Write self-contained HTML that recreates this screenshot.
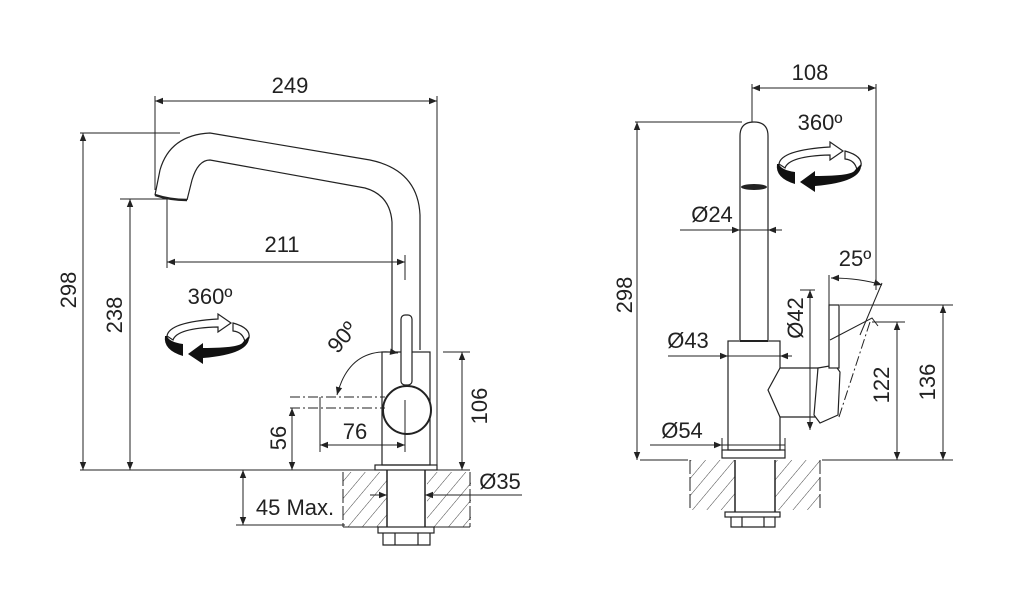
<!DOCTYPE html>
<html><head><meta charset="utf-8"><style>
html,body{margin:0;padding:0;background:#fff;}
svg{display:block;}
text{font-family:"Liberation Sans",Arial,sans-serif;font-size:22px;fill:#222;}
</style></head><body>
<svg width="1033" height="601" viewBox="0 0 1033 601" xmlns="http://www.w3.org/2000/svg">
<defs>
<pattern id="h" patternUnits="userSpaceOnUse" width="11" height="11" patternTransform="rotate(40)">
<line x1="0" y1="0" x2="0" y2="11" stroke="#444" stroke-width="1"/>
</pattern>
<marker id="a" viewBox="0 0 10 10" refX="10" refY="5" markerWidth="14" markerHeight="8" markerUnits="userSpaceOnUse" orient="auto-start-reverse">
<path d="M0,1 L10,5 L0,9 Z" fill="#222"/>
</marker>
<g id="rot">
<path d="M4,22 Q6,8 55,5 L55,0 L68,9 L55,18 L55,13 Q14,14 10,26 Z" fill="#fff" stroke="#222" stroke-width="1.2"/>
<path d="M70,9 Q88,14 86,24 L82,28 Q80,18 70,17 Z" fill="#fff" stroke="#222" stroke-width="1.2"/>
<path d="M2,22 Q0,36 20,42 L20,30 Q6,28 4,22 Z" fill="#111"/>
<path d="M86,22 Q88,40 40,44 L40,50 L25,40 L40,29 L40,34 Q78,34 80,28 Z" fill="#111"/>
</g>
</defs>
<g fill="none" stroke="#222" stroke-width="1">
<!-- LEFT DRAWING -->
<line x1="155" y1="101" x2="437" y2="101" marker-start="url(#a)" marker-end="url(#a)"/>
<line x1="155" y1="96" x2="155" y2="190"/>
<line x1="437" y1="96" x2="437" y2="470"/>
<line x1="80" y1="133" x2="180" y2="133"/>
<line x1="83" y1="133" x2="83" y2="470" marker-start="url(#a)" marker-end="url(#a)"/>
<line x1="120" y1="199" x2="168" y2="199"/>
<line x1="130" y1="199" x2="130" y2="470" marker-start="url(#a)" marker-end="url(#a)"/>
<line x1="167" y1="199" x2="167" y2="268"/>
<line x1="167" y1="262" x2="405" y2="262" marker-start="url(#a)" marker-end="url(#a)"/>
<line x1="405" y1="255" x2="405" y2="280"/>
<path d="M155,195 L160,170 Q170,135 210,133 L370,160 Q418,170 420,215 L420,350" stroke-width="1.2"/>
<path d="M187,200 L192,180 Q198,160 210,160 L365,188 Q390,195 392,222 L392,350" stroke-width="1.2"/>
<path d="M155,195 Q170,200 187,200" stroke-width="2.5"/>
<rect x="382" y="352" width="48" height="113" stroke-width="1.2"/>
<rect x="375" y="465" width="62" height="5" stroke-width="1.2"/>
<rect x="401" y="315" width="11" height="70" rx="4" fill="#fff" stroke-width="1.2"/>
<circle cx="407" cy="410" r="24" fill="#fff" stroke-width="2"/>
<line x1="80" y1="470" x2="470" y2="470"/>
<rect x="343" y="472" width="44" height="55" fill="url(#h)" stroke="none"/>
<rect x="427" y="472" width="44" height="55" fill="url(#h)" stroke="none"/>
<line x1="343" y1="472" x2="343" y2="527" stroke-dasharray="14,3"/>
<line x1="470" y1="472" x2="470" y2="527" stroke-dasharray="14,3"/>
<line x1="387" y1="470" x2="387" y2="527" stroke-width="1.5"/>
<line x1="425" y1="470" x2="425" y2="527" stroke-width="1.5"/>
<line x1="343" y1="527" x2="470" y2="527"/>
<rect x="378" y="527" width="56" height="6" stroke-width="1.2"/>
<path d="M383,533 L383,545 L430,545 L430,533 M395,533 L395,545 M418,533 L418,545" stroke-width="1.2"/>
<path d="M398,353 Q350,345 337,395" marker-start="url(#a)" marker-end="url(#a)"/>
<path d="M290,397 L385,397 M290,408 L385,408" stroke-dasharray="10,3,2,3"/>
<line x1="320" y1="397" x2="320" y2="452"/>
<line x1="405" y1="400" x2="405" y2="452"/>
<line x1="320" y1="445" x2="405" y2="445" marker-start="url(#a)" marker-end="url(#a)"/>
<line x1="292" y1="408" x2="292" y2="470" marker-start="url(#a)" marker-end="url(#a)"/>
<line x1="443" y1="352" x2="470" y2="352"/>
<line x1="462" y1="352" x2="462" y2="470" marker-start="url(#a)" marker-end="url(#a)"/>
<line x1="370" y1="495" x2="387" y2="495" marker-end="url(#a)"/>
<line x1="440" y1="495" x2="425" y2="495" marker-end="url(#a)"/>
<line x1="425" y1="495" x2="522" y2="495"/>
<line x1="243" y1="470" x2="243" y2="525" marker-start="url(#a)" marker-end="url(#a)"/>
<line x1="236" y1="525" x2="345" y2="525"/>

<!-- RIGHT DRAWING -->
<line x1="752" y1="88" x2="876" y2="88" marker-start="url(#a)" marker-end="url(#a)"/>
<line x1="752" y1="84" x2="752" y2="122"/>
<line x1="876" y1="84" x2="876" y2="290"/>
<line x1="635" y1="122" x2="742" y2="122"/>
<line x1="637" y1="122" x2="637" y2="460" marker-start="url(#a)" marker-end="url(#a)"/>
<path d="M740,340 L740,136 Q740,122 754,122 Q768,122 768,136 L768,340" stroke-width="1.2"/>
<ellipse cx="754" cy="187" rx="13" ry="3" fill="#222" stroke="none"/>
<line x1="680" y1="230" x2="740" y2="230" marker-end="url(#a)"/>
<line x1="740" y1="230" x2="768" y2="230"/>
<line x1="782" y1="230" x2="768" y2="230" marker-end="url(#a)"/>
<rect x="728" y="341" width="52" height="109" stroke-width="1.2"/>
<line x1="740" y1="341" x2="768" y2="341" stroke-width="2"/>
<line x1="668" y1="356" x2="728" y2="356" marker-end="url(#a)"/>
<line x1="728" y1="356" x2="780" y2="356"/>
<line x1="792" y1="356" x2="780" y2="356" marker-end="url(#a)"/>
<path d="M780,368 L768,390 L780,417 L818,417 L818,368 Z" fill="#fff" stroke-width="1.2"/>
<path d="M818,368 L835,365 L840,372 L838,415 L820,423 L814,415 Z" fill="#fff" stroke-width="1.2"/>
<rect x="829" y="305" width="10" height="63" fill="#fff" stroke-width="1.2"/>
<path d="M870,322 L838,420" stroke-dasharray="10,3,2,3"/>
<path d="M830,340 L872,318 L878,326" />
<line x1="810" y1="290" x2="810" y2="430" marker-start="url(#a)" marker-end="url(#a)"/>
<line x1="800" y1="290" x2="815" y2="290"/>
<line x1="829" y1="275" x2="829" y2="305"/>
<path d="M831,278 Q860,278 882,285" marker-start="url(#a)" marker-end="url(#a)"/>
<line x1="882" y1="283" x2="860" y2="335"/>
<line x1="840" y1="305" x2="953" y2="305"/>
<line x1="872" y1="322" x2="905" y2="322"/>
<line x1="897" y1="322" x2="897" y2="460" marker-start="url(#a)" marker-end="url(#a)"/>
<line x1="943" y1="305" x2="943" y2="460" marker-start="url(#a)" marker-end="url(#a)"/>
<line x1="650" y1="445" x2="722" y2="445" marker-end="url(#a)"/>
<line x1="722" y1="445" x2="785" y2="445"/>
<line x1="722" y1="438" x2="722" y2="452"/>
<line x1="785" y1="438" x2="785" y2="452"/>
<rect x="722" y="450" width="63" height="8" stroke-width="1.2"/>
<line x1="640" y1="460" x2="688" y2="460"/>
<line x1="822" y1="460" x2="953" y2="460"/>
<rect x="690" y="460" width="45" height="50" fill="url(#h)" stroke="none"/>
<rect x="775" y="460" width="45" height="50" fill="url(#h)" stroke="none"/>
<line x1="690" y1="460" x2="690" y2="510" stroke-dasharray="14,3"/>
<line x1="820" y1="460" x2="820" y2="510" stroke-dasharray="14,3"/>
<line x1="735" y1="460" x2="735" y2="512" stroke-width="1.5"/>
<line x1="775" y1="460" x2="775" y2="512" stroke-width="1.5"/>
<rect x="725" y="512" width="55" height="5" stroke-width="1.2"/>
<path d="M731,517 L731,527 L775,527 L775,517 M742,517 L742,527 L764,527 L764,517" stroke-width="1.2"/>
</g>
<use href="#rot" x="163" y="314"/>
<use href="#rot" x="775" y="142"/>
<g>
<text x="290" y="93" text-anchor="middle">249</text>
<text x="282" y="252" text-anchor="middle">211</text>
<text x="210" y="304" text-anchor="middle">360º</text>
<text x="355" y="439" text-anchor="middle">76</text>
<text x="500" y="489" text-anchor="middle">Ø35</text>
<text x="295" y="515" text-anchor="middle">45 Max.</text>
<text transform="translate(76,290) rotate(-90)" text-anchor="middle">298</text>
<text transform="translate(122,315) rotate(-90)" text-anchor="middle">238</text>
<text transform="translate(286,438) rotate(-90)" text-anchor="middle">56</text>
<text transform="translate(487,406) rotate(-90)" text-anchor="middle">106</text>
<text transform="translate(348,342) rotate(-50)" text-anchor="middle">90º</text>
<text x="810" y="80" text-anchor="middle">108</text>
<text x="820" y="130" text-anchor="middle">360º</text>
<text x="712" y="222" text-anchor="middle">Ø24</text>
<text x="688" y="348" text-anchor="middle">Ø43</text>
<text x="682" y="438" text-anchor="middle">Ø54</text>
<text x="855" y="266" text-anchor="middle">25º</text>
<text transform="translate(632,295) rotate(-90)" text-anchor="middle">298</text>
<text transform="translate(803,318) rotate(-90)" text-anchor="middle">Ø42</text>
<text transform="translate(889,385) rotate(-90)" text-anchor="middle">122</text>
<text transform="translate(935,382) rotate(-90)" text-anchor="middle">136</text>
</g>
</svg>
</body></html>
